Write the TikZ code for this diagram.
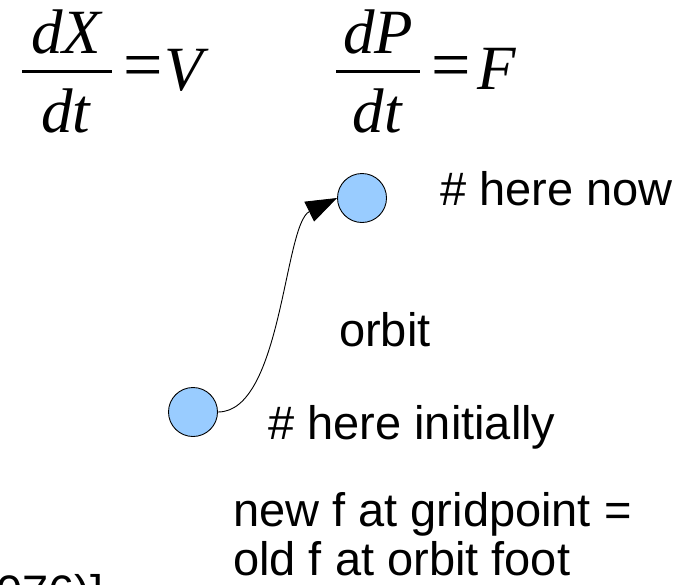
\documentclass[tikz,border=0pt]{standalone}
\usepackage{fontspec}
\setmainfont{Liberation Sans}
\newfontfamily\eqfont{Liberation Serif}
\usetikzlibrary{arrows.meta}
\definecolor{ballblue}{HTML}{99CCFF}
\begin{document}
\begin{tikzpicture}[x=1pt,y=-1pt,
  ball/.style={circle,draw=black,fill=ballblue,line width=0.9pt,minimum size=49pt,inner sep=0pt},
  lbl/.style={anchor=base west,inner sep=0pt,text depth=0pt,font=\fontsize{47}{53}\selectfont},
  eqv/.style={anchor=base,inner sep=0pt,font=\eqfont\itshape\fontsize{63}{68}\selectfont},
  eqs/.style={inner sep=0pt,font=\eqfont\fontsize{70}{74}\selectfont},
  fracbar/.style={line width=3pt},
  orbitline/.style={line width=0.9pt,-{Triangle[length=31pt,width=22pt]}}]
\useasboundingbox (0,0) rectangle (698,584);

% equation 1
\node[eqv] (num1) at (66,53) {dX};
\node[eqv] (den1) at (66,132) {dt};
\draw[fracbar] (22,71) -- (112,71);
\node[eqs] (eq1) at (143.5,73) {=};
\node[eqv,anchor=base west] (rhs1) at (164,90) {V};

% equation 2
\node[eqv] (num2) at (378,53) {dP};
\node[eqv] (den2) at (377,132) {dt};
\draw[fracbar] (336,71) -- (420,71);
\node[eqs] (eq2) at (451,73) {=};
\node[eqv,anchor=base west] (rhs2) at (477,89) {F};

% balls
\node[ball] (now) at (362,198) {};
\node[ball] (init) at (193,412) {};

% orbit
\draw[orbitline] (init.east) .. controls (282,412) and (284,224) .. (now.west);

% labels
\node[lbl] (herenow) at (440,205) {\# here now};
\node[lbl] (orbitlbl) at (339,346) {orbit};
\node[lbl] (hereinit) at (268,439) {\# here initially};
\node[lbl] (newf) at (233,526) {new f at gridpoint =};
\node[lbl] (oldf) at (233,575) {old f at orbit foot};

\begin{scope}
\clip (0,0) rectangle (698,584);
\node[lbl] (cut) at (-4,608) {076)]};
\end{scope}
\end{tikzpicture}
\end{document}
